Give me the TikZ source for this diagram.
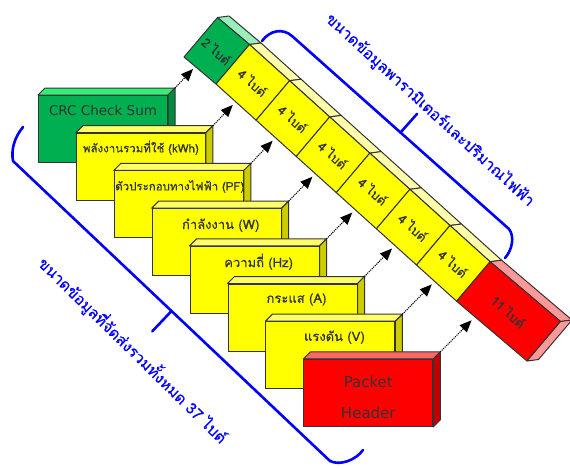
\documentclass[tikz,border=0pt]{standalone}
\usepackage{fontspec}
\setmainfont{DejaVu Sans}
\newfontfamily\thaifont[Script=Thai,FakeBold=0.4]{Loma}
\usetikzlibrary{arrows.meta,calc}
\definecolor{yfront}{HTML}{FFFF00}
\definecolor{ytop}{HTML}{FFFF66}
\definecolor{yside}{HTML}{CCCC00}
\definecolor{gfront}{HTML}{00B050}
\definecolor{gtop}{HTML}{33EE77}
\definecolor{gside}{HTML}{008A3E}
\definecolor{rfront}{HTML}{FF0000}
\definecolor{rtop}{HTML}{FF6666}
\definecolor{rside}{HTML}{C00000}
\definecolor{ystrip}{HTML}{FFFFAA}
\definecolor{gstrip}{HTML}{99EEBB}
\definecolor{rstrip}{HTML}{FF9999}
\definecolor{txt}{HTML}{333333}
\definecolor{bluebr}{HTML}{0000FF}
\begin{document}
\begin{tikzpicture}[x=1pt,y=-1pt,
  box/.style={draw=txt,line width=1pt,minimum width=129pt,minimum height=67pt,inner sep=0pt,anchor=north west},
  face/.style={draw=txt,line width=1pt,line join=round},
  lbl/.style={text=txt,inner sep=0pt,font=\thaifont\fontsize{13}{15}\selectfont},
  lblsmall/.style={text=txt,inner sep=0pt,font=\thaifont\fontsize{11.5}{14}\selectfont},
  celltxt/.style={text=txt,inner sep=0pt,rotate=-42,font=\thaifont\fontsize{12.5}{14}\selectfont},
  arr/.style={densely dotted,line width=1.1pt,draw=black,-{Triangle[length=12pt,width=10pt]}},
  bracestyle/.style={draw=bluebr,line width=2.6pt,line cap=round,line join=round},
  bluetxt/.style={text=bluebr,inner sep=0pt,font=\thaifont\fontsize{15.5}{18}\selectfont}]
\useasboundingbox (0,0) rectangle (570,467);
% stacked boxes
\foreach \i/\fc/\tc/\sc in {0/gfront/gtop/gside,1/yfront/ytop/yside,2/yfront/ytop/yside,3/yfront/ytop/yside,4/yfront/ytop/yside,5/yfront/ytop/yside,6/yfront/ytop/yside,7/rfront/rtop/rside}{
  \node[box,fill=\fc] (b\i) at ({38+37.9*\i},{95+37.7*\i}) {};
  \filldraw[face,fill=\tc] (b\i.north west) -- ++(7,-7) -- ([shift={(7,-7)}]b\i.north east) -- (b\i.north east) -- cycle;
  \filldraw[face,fill=\sc] (b\i.north east) -- ++(7,-7) -- ([shift={(7,-7)}]b\i.south east) -- (b\i.south east) -- cycle;
}
\node[text=txt,inner sep=0pt,font=\fontsize{13.5}{16}\selectfont] (l0) at ([yshift=-15pt]b0.north) {CRC Check Sum};
\node[lblsmall] (l1) at ([yshift=-15pt]b1.north) {พลังงานรวมที่ใช้ (kWh)};
\node[lblsmall] (l2) at ([shift={(1,16)}]b2.north) {ตัวประกอบทางไฟฟ้า (PF)};
\node[lbl] (l3) at ([shift={(4,17)}]b3.north) {กำลังงาน (W)};
\node[lbl] (l4) at ([shift={(4,16)}]b4.north) {ความถี่ (Hz)};
\node[lbl] (l5) at ([shift={(4,16)}]b5.north) {กระแส (A)};
\node[lbl] (l6) at ([shift={(4,16)}]b6.north) {แรงดัน (V)};
\node[text=txt,inner sep=0pt,align=center,font=\fontsize{15}{31}\selectfont] (l7) at ([yshift=-38pt]b7.north) {Packet\\Header};
% bar coordinates
\coordinate (B0) at (184,57);
\foreach \k in {1,...,7} \coordinate (B\k) at ({216+40.1*(\k-1)},{84+36.2*(\k-1)});
\coordinate (B8) at (527,361);
\foreach \k in {0,...,8} \coordinate (T\k) at ($(B\k)+(33.5,-39.5)$);
% bar cells
\foreach \k/\fc/\sc/\t in {0/gfront/gstrip/2,1/yfront/ystrip/4,2/yfront/ystrip/4,3/yfront/ystrip/4,4/yfront/ystrip/4,5/yfront/ystrip/4,6/yfront/ystrip/4,7/rfront/rstrip/11}{
  \pgfmathtruncatemacro{\n}{\k+1}
  \filldraw[face,fill=\sc] (T\k) -- ++(11.5,-1.5) -- ($(T\n)+(11.5,-1.5)$) -- (T\n) -- cycle;
  \filldraw[face,fill=\fc] (T\k) -- (T\n) -- (B\n) -- (B\k) -- cycle;
  \node[celltxt] (c\k) at ($(T\k)!0.5!(B\n)$) {\t\ ไบต์};
}
\filldraw[face,fill=rstrip] (T8) -- ++(11.5,-1.5) -- ($(B8)+(11.5,-1.5)$) -- (B8) -- cycle;
% arrows
\foreach \i in {0,...,7}{
  \coordinate (a\i) at ({193+39.8*\i},{69+35.9*\i});
  \draw[arr] ([shift={(7,-7)}]b\i.north east) -- (a\i);
}
% braces
\draw[bracestyle] (262,41) .. controls (270,30) and (283,28) .. (292,36) coordinate (u1) -- (509,229) coordinate (u2) .. controls (515,237) and (512,250) .. (505,258);
\coordinate (um) at ($(u1)!0.5!(u2)$);
\draw[bracestyle] (um) -- ++(16.6,-18.7);
\draw[bracestyle] (23,127) .. controls (14,138) and (11,150) .. (13,161) coordinate (d1) -- (330,461) coordinate (d2) .. controls (340,466) and (356,460) .. (363,450);
\coordinate (dm) at ($(d1)!0.5!(d2)$);
\draw[bracestyle] (dm) -- ++(-19.3,20.4);
\node[bluetxt,rotate=-42.5] (ut) at (430,110) {ขนาดข้อมูลพารามิเตอร์และปริมาณไฟฟ้า};
\node[bluetxt,rotate=-44.5] (dt) at (133,350) {ขนาดข้อมูลที่จัดส่งรวมทั้งหมด 37 ไบต์};
\end{tikzpicture}
\end{document}
